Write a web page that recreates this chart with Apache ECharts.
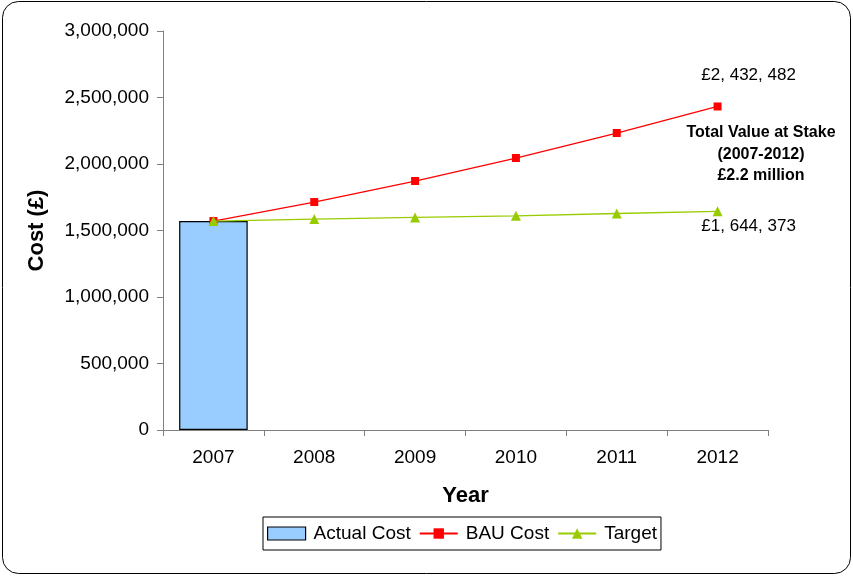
<!DOCTYPE html>
<html><head><meta charset="utf-8">
<script src="https://cdn.jsdelivr.net/npm/echarts@6/dist/echarts.min.js"></script>
<style>html,body{margin:0;padding:0;background:#fff}#c{width:853px;height:576px}</style>
</head><body><div id="c"></div>
<script>
const years = ['2007','2008','2009','2010','2011','2012'];
const actualCost = [1571000, null, null, null, null, null];
const bauCost = [1571000, 1714000, 1872000, 2045000, 2233000, 2432482];
const targetCost = [1571000, 1586000, 1598000, 1610000, 1628000, 1644373];
const yTicks = [0, 500000, 1000000, 1500000, 2000000, 2500000, 3000000];

const fmtNum = v => v.toString().replace(/\B(?=(\d{3})+(?!\d))/g, ',');
const fmtPound = v => '£' + v.toString().replace(/\B(?=(\d{3})+(?!\d))/g, ', ');
const font = 'Liberation Sans, Arial, sans-serif';
const last = years.length - 1;

const chart = echarts.init(document.getElementById('c'));
chart.setOption({
  animation: false,
  textStyle: { fontFamily: font },
  graphic: [{
    type: 'rect', shape: { x: 2.5, y: 1.5, width: 848, height: 572, r: 16 },
    style: { fill: 'none', stroke: '#000', lineWidth: 1 }, z: -10
  }],
  title: {
    text: 'Total Value at Stake\n(2007-2012)\n£2.2 million',
    left: 756, top: 117, textAlign: 'center',
    textStyle: { fontSize: 16, fontWeight: 'bold', color: '#000', lineHeight: 21.5, fontFamily: font }
  },
  grid: { left: 163, right: 85, top: 31, bottom: 146 },
  legend: {
    bottom: 26, left: 263,
    borderColor: '#000', borderWidth: 1, borderRadius: 0,
    padding: [7, 4, 7, 4], itemGap: 8, itemWidth: 38, itemHeight: 13,
    textStyle: { fontSize: 19, color: '#000', fontFamily: font, padding: [0, 0, 0, 3] },
    data: [
      { name: 'Actual Cost', icon: 'rect', itemStyle: { borderColor: '#000', borderWidth: 1.2 } },
      { name: 'BAU Cost' },
      { name: 'Target' }
    ]
  },
  xAxis: {
    type: 'category', data: years, boundaryGap: true,
    name: 'Year', nameLocation: 'middle', nameGap: 55,
    nameTextStyle: { fontSize: 22, fontWeight: 'bold', color: '#000', fontFamily: font },
    axisLine: { lineStyle: { color: '#808080' } },
    axisTick: { show: true, length: 6, inside: false, lineStyle: { color: '#808080' } },
    axisLabel: { fontSize: 19, color: '#000', margin: 18, fontFamily: font }
  },
  yAxis: {
    type: 'value', min: 0, max: 3000000, interval: 500000,
    name: 'Cost (£)', nameLocation: 'middle', nameGap: 115, nameRotate: 90,
    nameTextStyle: { fontSize: 22, fontWeight: 'bold', color: '#000', fontFamily: font },
    axisLine: { show: true, lineStyle: { color: '#808080' } },
    axisTick: { show: true, length: 6, lineStyle: { color: '#808080' } },
    splitLine: { show: false },
    axisLabel: { fontSize: 19, color: '#000', margin: 14, fontFamily: font,
      formatter: v => yTicks.includes(v) ? fmtNum(v) : '' }
  },
  series: [
    {
      name: 'Actual Cost', type: 'bar', data: actualCost, barWidth: '68%',
      itemStyle: { color: '#99ccff', borderColor: '#000', borderWidth: 1.2 }, z: 1
    },
    {
      name: 'BAU Cost', type: 'line', data: bauCost,
      symbol: 'rect', symbolSize: 8,
      lineStyle: { color: '#ff0000', width: 1.3 }, itemStyle: { color: '#ff0000' },
      label: { show: true, position: 'top', distance: 19, offset: [31, 0], fontSize: 17, color: '#000', fontFamily: font,
        formatter: p => p.dataIndex === last ? fmtPound(p.value) : '' },
      z: 3
    },
    {
      name: 'Target', type: 'line', data: targetCost,
      symbol: 'triangle', symbolSize: 10,
      lineStyle: { color: '#99cc00', width: 1.3 }, itemStyle: { color: '#99cc00' },
      label: { show: true, position: 'bottom', distance: 2, offset: [31, 0], fontSize: 17, color: '#000', fontFamily: font,
        formatter: p => p.dataIndex === last ? fmtPound(p.value) : '' },
      z: 4
    }
  ]
});
</script></body></html>
